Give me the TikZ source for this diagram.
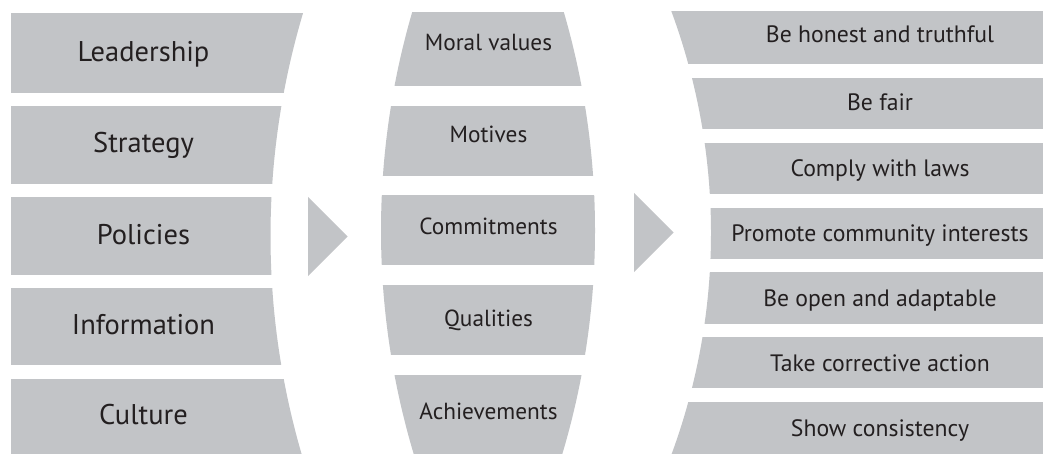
\documentclass[tikz,border=0pt]{standalone}
\usepackage{fontspec}
\setmainfont{PT Sans}
\definecolor{boxgray}{RGB}{194,196,199}
\definecolor{txtc}{RGB}{35,31,32}
\tikzset{
  boxfill/.style={fill=boxgray},
  ltxt/.style={anchor=base, text=txtc, inner sep=0pt, font=\fontsize{28.5}{32}\selectfont},
  mtxt/.style={anchor=base, text=txtc, inner sep=0pt, font=\fontsize{23.3}{27}\selectfont},
  rtxt/.style={anchor=base, text=txtc, inner sep=0pt, font=\fontsize{23.7}{27}\selectfont},
  chev/.style={fill=boxgray}
}
\begin{document}
\begin{tikzpicture}[x=1pt,y=-1pt]
\useasboundingbox (0,0) rectangle (1043,454);
\fill[white] (0,0) rectangle (1043,454);
% left column
\begin{scope}
\clip (0,-5) -- plot[domain=-5:460,samples=90] ({1050.5-100*sqrt(7.8^2-((\x-236)/100)^2)},\x) -- (0,460) -- cycle;
\foreach \t/\b in {13/93,106/184,197/275,288/365,379/460}
  \fill[boxfill] (11,\t) rectangle (420,\b);
\end{scope}
% middle column
\begin{scope}
\clip plot[domain=-5:460,samples=90] ({1161-100*sqrt(7.8^2-((\x-230.5)/100)^2)},\x)
  -- plot[domain=460:-5,samples=90] ({-185+100*sqrt(7.8^2-((\x-230.5)/100)^2)},\x) -- cycle;
\foreach \t/\b in {12/86,106/176,195/265,285/355,375/460}
  \fill[boxfill] (350,\t) rectangle (630,\b);
\end{scope}
% right column
\begin{scope}
\clip plot[domain=-5:460,samples=90] ({71+100*sqrt(6.4^2-((\x-233)/100)^2)},\x) -- (1050,460) -- (1050,-5) -- cycle;
\foreach \t/\b in {11/64,78/129,143/194,208/259,272/324,337/388,402/460}
  \fill[boxfill] (640,\t) rectangle (1050,\b);
\end{scope}
% chevrons
\coordinate (c1a) at (308,197); \coordinate (c1b) at (347.5,236.5); \coordinate (c1c) at (308,276);
\fill[chev] (c1a) -- (c1b) -- (c1c) -- cycle;
\coordinate (c2a) at (634,193); \coordinate (c2b) at (673.5,232.5); \coordinate (c2c) at (634,272);
\fill[chev] (c2a) -- (c2b) -- (c2c) -- cycle;
% texts
\node[ltxt] (l1) at (143.5,62) {Leadership};
\node[ltxt] (l2) at (143.5,152.5) {Strategy};
\node[ltxt] (l3) at (143.5,244) {Policies};
\node[ltxt] (l4) at (143.5,334) {Information};
\node[ltxt] (l5) at (143.5,424) {Culture};
\node[mtxt] (m1) at (488.5,51) {Moral values};
\node[mtxt] (m2) at (488.5,143) {Motives};
\node[mtxt] (m3) at (488.5,235) {Commitments};
\node[mtxt] (m4) at (488.5,326) {Qualities};
\node[mtxt] (m5) at (488.5,419) {Achievements};
\node[rtxt] (r1) at (880,43) {Be honest and truthful};
\node[rtxt] (r2) at (880,110.5) {Be fair};
\node[rtxt] (r3) at (880,176.5) {Comply with laws};
\node[rtxt] (r4) at (880,241.5) {Promote community interests};
\node[rtxt] (r5) at (880,306) {Be open and adaptable};
\node[rtxt] (r6) at (880,371) {Take corrective action};
\node[rtxt] (r7) at (880,436.5) {Show consistency};
\end{tikzpicture}
\end{document}
